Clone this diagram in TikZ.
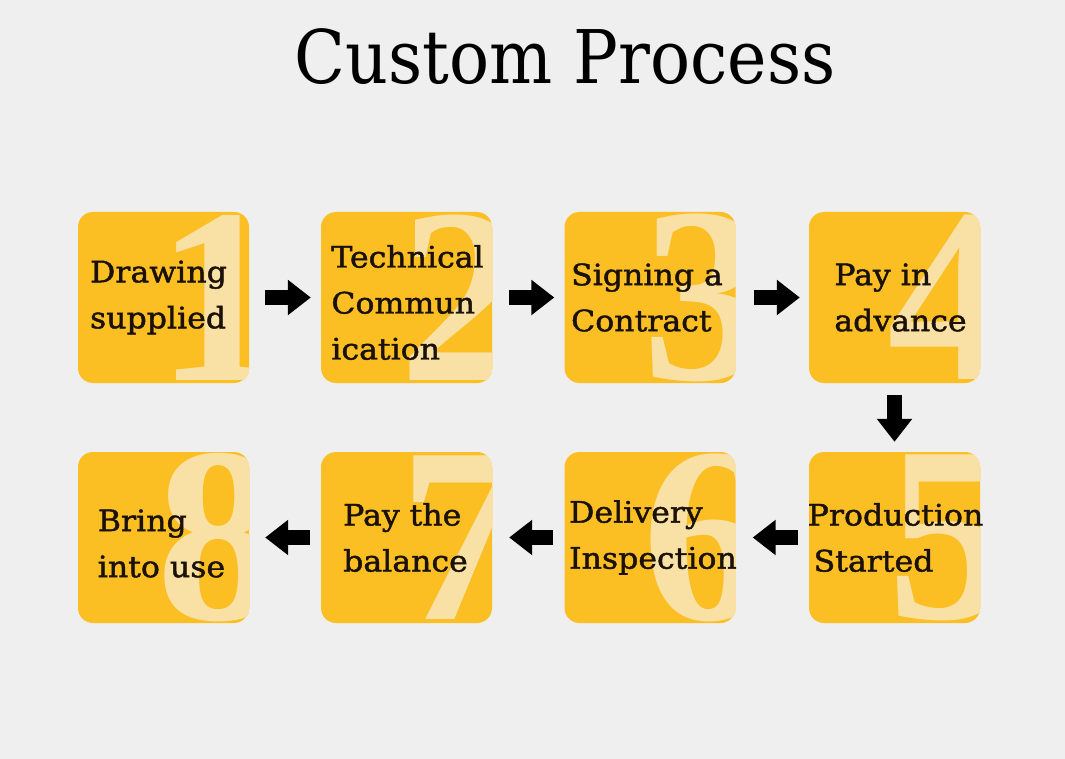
\documentclass[tikz,border=0pt]{standalone}
\usepackage{fontspec}
\setmainfont{DejaVu Serif}
\newfontfamily\titlefont[FakeStretch=0.9]{DejaVu Serif}
\newfontfamily\boxfont[FakeStretch=1.07,FakeBold=1.5]{DejaVu Serif}
\newfontfamily\digitfont{Liberation Serif}
\usetikzlibrary{arrows.meta}
\definecolor{bg}{RGB}{239,239,239}
\definecolor{boxyel}{RGB}{251,191,36}
\definecolor{pale}{RGB}{249,225,165}
\definecolor{txt}{RGB}{26,18,8}
\begin{document}
\begin{tikzpicture}[x=1pt,y=-1pt,
  stepbox/.style={minimum width=171pt,minimum height=171pt,inner sep=0pt,
    rounded corners=15pt,fill=boxyel,
    path picture={\node[text=pale,inner sep=0pt,
      font=\digitfont\bfseries\fontsize{250}{250}\selectfont]
      at ([xshift=55pt]path picture bounding box.center) {#1};}},
  lbl/.style={font=\boxfont\fontsize{29.5}{46}\selectfont,align=left,text=txt,inner sep=0pt},
  blk/.style={line width=15pt,-{Triangle[width=34pt,length=23pt]}}
]
\useasboundingbox (0,0) rectangle (1065,759);
\fill[bg] (0,0) rectangle (1065,759);

\node[anchor=base,inner sep=0pt,font=\titlefont\fontsize{74}{80}\selectfont] (title) at (565,84) {Custom Process};

% row 1
\node[stepbox=1] (b1) at (163.5,297.5) {};
\node[stepbox=2] (b2) at (406.5,297.5) {};
\node[stepbox=3] (b3) at (650,297.5) {};
\node[stepbox=4] (b4) at (894.5,297.5) {};
% row 2
\node[stepbox=5] (b5) at (894.5,537.5) {};
\node[stepbox=6] (b6) at (650,537.5) {};
\node[stepbox=7] (b7) at (406.5,537.5) {};
\node[stepbox=8] (b8) at (163.5,537.5) {};

\node[lbl] (t1) at ([xshift=-5pt]b1.center) {Drawing\\supplied};
\node[lbl] (t2) at ([xshift=1pt,yshift=-5pt]b2.center) {Technical\\Commun\\ication};
\node[lbl] (t3) at ([xshift=-3pt]b3.center) {Signing a\\Contract};
\node[lbl] (t4) at ([xshift=6pt]b4.center) {Pay in\\advance};
\node[lbl] (t5) at ([xshift=1pt]b5.center) {Production\\\hspace*{6pt}Started};
\node[lbl] (t6) at ([xshift=3pt]b6.center) {Delivery\\Inspection};
\node[lbl] (t7) at ([xshift=-1pt]b7.center) {Pay the\\balance};
\node[lbl] (t8) at ([xshift=-2pt,yshift=-6pt]b8.center) {Bring\\into use};

\draw[blk,shorten <=16pt,shorten >=10pt] (b1.east) -- (b2.west);
\draw[blk,shorten <=17pt,shorten >=10pt] (b2.east) -- (b3.west);
\draw[blk,shorten <=18pt,shorten >=9pt] (b3.east) -- (b4.west);
\draw[blk,shorten <=12pt,shorten >=10pt] (b4.south) -- (b5.north);
\draw[blk,shorten <=11pt,shorten >=17pt] (b5.west) -- (b6.east);
\draw[blk,shorten <=11pt,shorten >=17pt] (b6.west) -- (b7.east);
\draw[blk,shorten <=11pt,shorten >=16pt] (b7.west) -- (b8.east);
\end{tikzpicture}
\end{document}
